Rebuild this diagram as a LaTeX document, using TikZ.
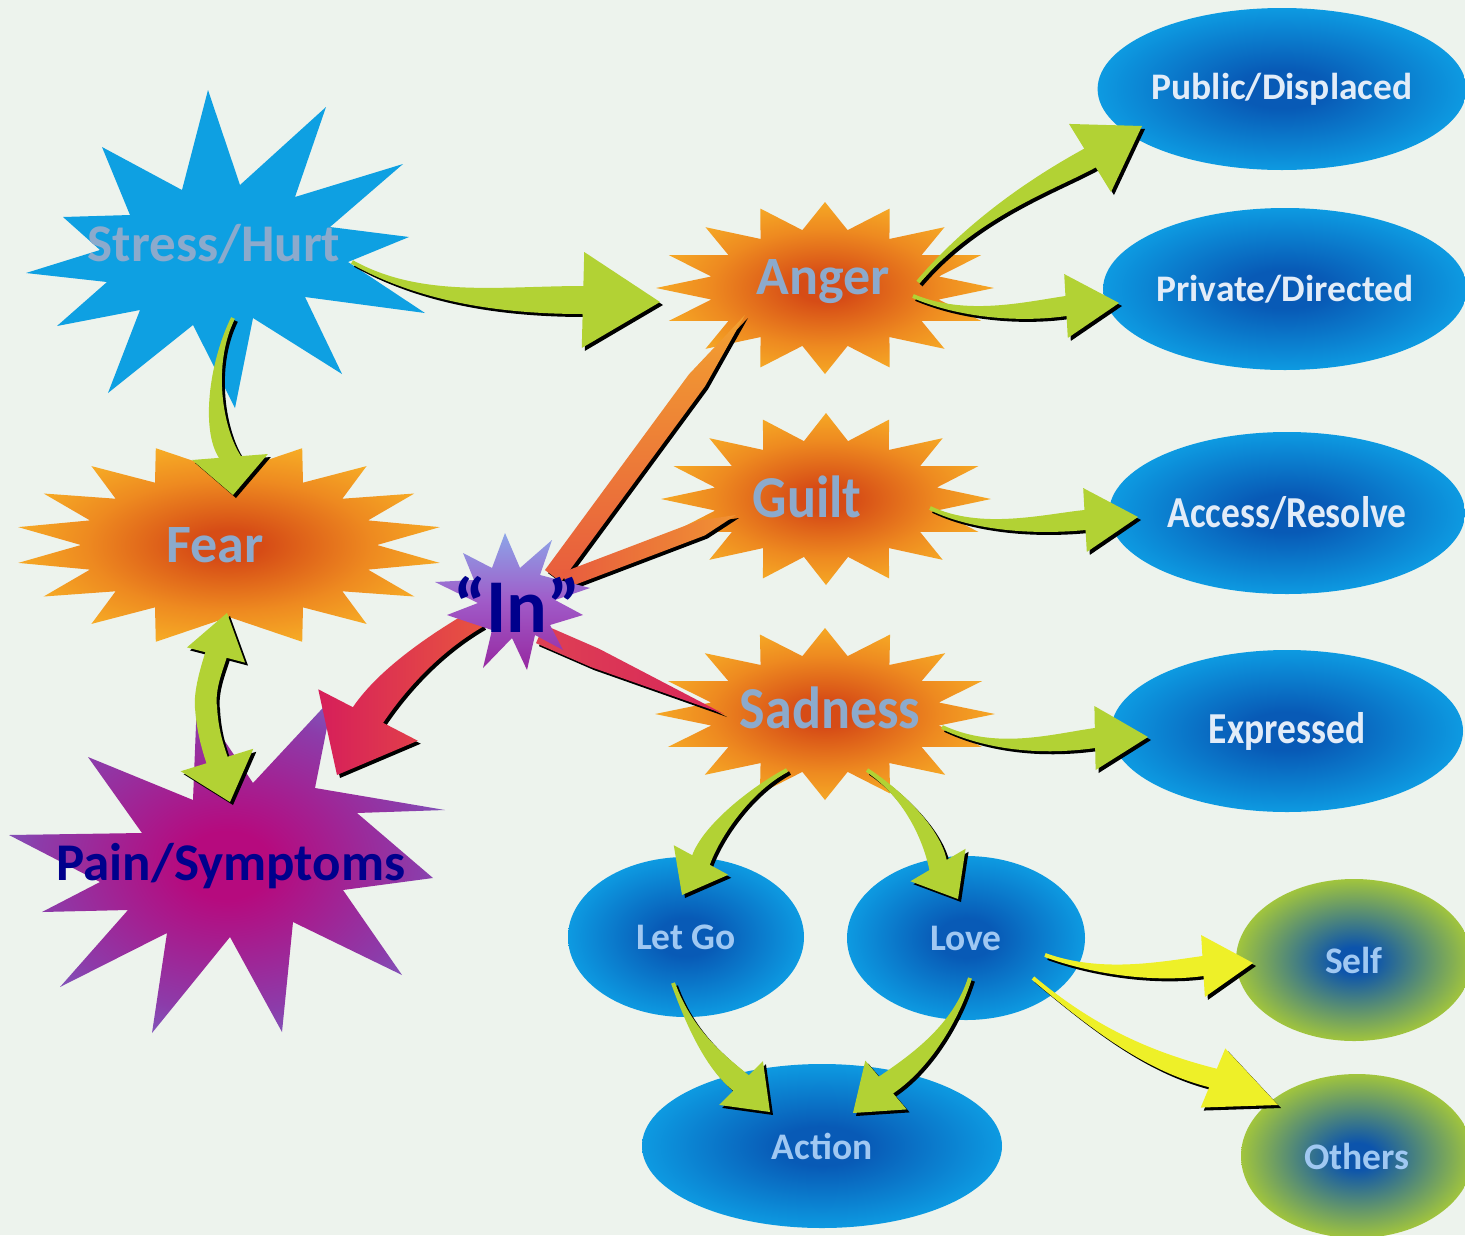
\documentclass[tikz,border=0pt]{standalone}
\usepackage{fontspec}
\usepackage{graphicx}
\setmainfont{Carlito}
\usetikzlibrary{calc,shapes.geometric}

\definecolor{bg}{RGB}{237,243,237}
\definecolor{starblue}{RGB}{14,160,226}
\definecolor{ocore}{RGB}{214,76,22}
\definecolor{omid}{RGB}{238,138,32}
\definecolor{oedge}{RGB}{250,186,40}
\definecolor{bcore}{RGB}{8,90,182}
\definecolor{bedge}{RGB}{14,164,232}
\definecolor{gcore}{RGB}{12,84,172}
\definecolor{gedge}{RGB}{168,202,56}
\definecolor{pcore}{RGB}{182,10,126}
\definecolor{pmid}{RGB}{140,60,170}
\definecolor{pedge}{RGB}{100,150,226}
\definecolor{arrgreen}{RGB}{178,210,52}
\definecolor{arryellow}{RGB}{238,240,40}
\definecolor{stxt}{RGB}{140,170,204}
\definecolor{etxt}{RGB}{226,236,248}
\definecolor{ltxt}{RGB}{160,200,242}
\definecolor{navy}{RGB}{0,0,140}
\definecolor{inblue}{RGB}{140,165,232}
\definecolor{inmid}{RGB}{160,90,200}
\definecolor{inpurple}{RGB}{150,40,160}
\definecolor{crimson}{RGB}{214,30,90}
\definecolor{redorange}{RGB}{232,84,64}
\definecolor{wedgeor}{RGB}{242,160,48}
\definecolor{wedgered}{RGB}{232,92,62}
\definecolor{wedgepink}{RGB}{222,64,84}

\pgfdeclareradialshading{orangeglow}{\pgfpoint{0bp}{0bp}}{color(0bp)=(ocore); color(4bp)=(ocore); color(17bp)=(omid); color(30bp)=(oedge); color(50bp)=(oedge)}
\pgfdeclareradialshading{blueglow}{\pgfpoint{0bp}{0bp}}{color(0bp)=(bcore); color(6bp)=(bcore); color(28bp)=(bedge); color(50bp)=(bedge)}
\pgfdeclareradialshading{greenglow}{\pgfpoint{0bp}{0bp}}{color(0bp)=(gcore); color(4bp)=(gcore); color(26bp)=(gedge); color(50bp)=(gedge)}
\pgfdeclareradialshading{painglow}{\pgfpoint{0bp}{0bp}}{color(0bp)=(pcore); color(5bp)=(pcore); color(22bp)=(pmid); color(38bp)=(pedge); color(50bp)=(pedge)}

% seal: #1 cx, #2 cy, #3 half step angle, #4 last index, #5 rx, #6 ry, #7 inner rx, #8 inner ry, #9 offset
\newcommand\seal[9]{%
  \shade[shading=orangeglow] ({#1+#5*cos(#9)},{#2-#6*sin(#9)})
    \foreach \k in {1,...,#4} {
      -- ({#1+(mod(\k,2)*#7+(1-mod(\k,2))*#5)*cos(#9+\k*#3)},{#2-(mod(\k,2)*#8+(1-mod(\k,2))*#6)*sin(#9+\k*#3)})
    } -- cycle;}

% fat tapered arrow: #1 tail, #2 c1, #3 c2, #4 head base, #5 tip, #6 tail hw, #7 body hw, #8 head hw, #9 style
\newcommand\fatarrow[9]{%
  \coordinate (fS) at #1; \coordinate (fC1) at #2; \coordinate (fC2) at #3;
  \coordinate (fE) at #4; \coordinate (fT) at #5;
  \coordinate (fEL) at ($(fE)!#7!90:(fT)$); \coordinate (fER) at ($(fE)!#7!-90:(fT)$);
  \coordinate (fHL) at ($(fE)!#8!90:(fT)$); \coordinate (fHR) at ($(fE)!#8!-90:(fT)$);
  \coordinate (fSL) at ($(fS)!#6!90:(fC1)$); \coordinate (fSR) at ($(fS)!#6!-90:(fC1)$);
  \begin{scope}[transform canvas={xshift=3pt,yshift=-3pt}]
    \fill[black] (fSL) .. controls ($(fC1)+(fSL)-(fS)$) and ($(fC2)+(fEL)-(fE)$) .. (fEL) -- (fHL) -- (fT) -- (fHR) -- (fER)
      .. controls ($(fC2)+(fER)-(fE)$) and ($(fC1)+(fSR)-(fS)$) .. (fSR) -- cycle;
  \end{scope}
  \path[#9] (fSL) .. controls ($(fC1)+(fSL)-(fS)$) and ($(fC2)+(fEL)-(fE)$) .. (fEL) -- (fHL) -- (fT) -- (fHR) -- (fER)
      .. controls ($(fC2)+(fER)-(fE)$) and ($(fC1)+(fSR)-(fS)$) .. (fSR) -- cycle;}

% band ending in a point: #1 base, #2 tip, #3 half width, #4 fraction where taper starts, #5 style
\newcommand\band[5]{%
  \coordinate (wB) at #1; \coordinate (wT) at #2;
  \coordinate (wM) at ($(wB)!#4!(wT)$);
  \coordinate (wBL) at ($(wB)!#3!90:(wT)$); \coordinate (wBR) at ($(wB)!#3!-90:(wT)$);
  \coordinate (wML) at ($(wM)!#3!90:(wT)$); \coordinate (wMR) at ($(wM)!#3!-90:(wT)$);
  \begin{scope}[transform canvas={xshift=3pt,yshift=-3pt}]
    \fill[black] (wBL) -- (wML) -- (wT) -- (wMR) -- (wBR) -- cycle;
  \end{scope}
  \path[#5] (wBL) -- (wML) -- (wT) -- (wMR) -- (wBR) -- cycle;}

\tikzset{
  startxt/.style={font=\bfseries\fontsize{54}{56}\selectfont, text=stxt, inner sep=0pt},
  bell/.style={ellipse, shade, shading=blueglow, inner sep=0pt,
    font=\bfseries\fontsize{37.5}{40}\selectfont, text=etxt},
  gell/.style={ellipse, shade, shading=greenglow, inner sep=0pt,
    font=\bfseries\fontsize{37.5}{40}\selectfont, text=ltxt},
  greenfill/.style={fill=arrgreen},
  yellowfill/.style={fill=arryellow},
}

\begin{document}
\begin{tikzpicture}[x=1pt,y=-1pt]
\useasboundingbox (0,0) rectangle (1465,1235);
\fill[bg] (0,0) rectangle (1465,1235);

% Stress/Hurt star
\fill[starblue] (208,90) -- (240,185) -- (326,107) -- (295,197) -- (403,164) -- (330,227)
  -- (409,237) -- (348,262) -- (425,313) -- (305,297) -- (342,374) -- (253,318)
  -- (235,408) -- (193,325) -- (108,393) -- (140,310) -- (57,326) -- (107,282)
  -- (26,273) -- (100,250) -- (63,217) -- (130,215) -- (102,147) -- (182,190) -- cycle;

% Fear (no tips at top and bottom)
\shade[shading=orangeglow] ({229+214*cos(10)},{545-103*sin(10)})
  \foreach \a/\t in {20/0,30/1,40/0,50/1,60/0,70/1,90/0,110/1,120/0,130/1,140/0,150/1,160/0,170/1,180/0,
                     190/1,200/0,210/1,220/0,230/1,240/0,250/1,270/0,290/1,300/0,310/1,320/0,330/1,340/0,350/1,360/0} {
    -- ({229+(\t*214+(1-\t)*148)*cos(\a)},{545-(\t*103+(1-\t)*72)*sin(\a)})
  } -- cycle;

% Pain/Symptoms star
\shade[shading=painglow] (88,757) -- (193,800) -- (197,700) -- (253,783) -- (333,697)
  -- (315,788) -- (445,810) -- (357,813) -- (433,878) -- (343,890) -- (402,975)
  -- (293,922) -- (282,1032) -- (230,937) -- (152,1033) -- (167,933) -- (60,987)
  -- (128,910) -- (42,912) -- (100,882) -- (9,835) -- (142,833) -- cycle;

% Anger, Guilt, Sadness
\seal{825}{288}{11.25}{31}{169}{86}{116}{59}{0}
\seal{826}{499}{11.25}{31}{165}{86}{113}{59}{0}
\seal{825}{714}{11.25}{31}{170}{86}{116}{59}{0}

% ellipses
\node[bell, minimum width=362pt, minimum height=162pt] (pub) at (1282,89) {Public/Displaced};
\node[bell, minimum width=362pt, minimum height=162pt] (priv) at (1285,289) {Private/Directed};
\node[bell, minimum width=356pt, minimum height=162pt] (acc) at (1287,513) {\scalebox{1}[1.18]{Access/Resolve}};
\node[bell, minimum width=352pt, minimum height=162pt] (expr) at (1287,731) {\scalebox{1}[1.18]{Expressed}};
\node[bell, minimum width=236pt, minimum height=160pt, text=ltxt] (letgo) at (686,937) {Let Go};
\node[bell, minimum width=238pt, minimum height=164pt, text=ltxt] (love) at (966,938) {Love};
\node[bell, minimum width=360pt, minimum height=164pt, text=ltxt] (action) at (822,1146) {Action};
\node[gell, minimum width=236pt, minimum height=162pt] (self) at (1354,960) {Self};
\node[gell, minimum width=232pt, minimum height=164pt] (others) at (1357,1156) {Others};

% bands from "In"
\band{(553,576)}{(745,315)}{10pt}{0.75}{bottom color=wedgered, top color=wedgeor}
\band{(565,580)}{(736,515)}{8pt}{0.8}{left color=wedgered, right color=wedgeor!80!wedgered}
\band{(540,634)}{(724,714)}{10pt}{0.3}{left color=wedgepink, right color=crimson!80!wedgepink}

% green arrows
\fatarrow{(352,262)}{(420,300)}{(500,300)}{(583,300)}{(660,302)}{2pt}{14pt}{48pt}{greenfill}
\fatarrow{(233,318)}{(210,365)}{(212,430)}{(230,457)}{(233,495)}{2pt}{11pt}{38pt}{greenfill}
\fatarrow{(206,708)}{(204,690)}{(212,668)}{(216,655)}{(227,613)}{11pt}{11pt}{30pt}{greenfill}
\fatarrow{(206,706)}{(207,728)}{(212,745)}{(217,760)}{(230,802)}{11pt}{11pt}{38pt}{greenfill}
\fatarrow{(918,282)}{(975,215)}{(1050,180)}{(1090,158)}{(1142,126)}{2pt}{11pt}{40pt}{greenfill}
\fatarrow{(913,296)}{(965,318)}{(1025,312)}{(1066,306)}{(1119,303)}{2pt}{10pt}{32pt}{greenfill}
\fatarrow{(930,508)}{(980,532)}{(1045,524)}{(1085,520)}{(1138,517)}{2pt}{10pt}{32pt}{greenfill}
\fatarrow{(942,727)}{(995,752)}{(1052,744)}{(1095,738)}{(1148,737)}{2pt}{10pt}{32pt}{greenfill}
\fatarrow{(787,770)}{(750,790)}{(712,830)}{(701,860)}{(682,895)}{2pt}{10pt}{31pt}{greenfill}
\fatarrow{(867,770)}{(905,795)}{(932,835)}{(938,865)}{(958,899)}{2pt}{10pt}{32pt}{greenfill}
\fatarrow{(673,983)}{(690,1030)}{(715,1062)}{(741,1083)}{(770,1112)}{2pt}{11pt}{31pt}{greenfill}
\fatarrow{(970,978)}{(955,1025)}{(920,1062)}{(886,1085)}{(853,1113)}{2pt}{11pt}{32pt}{greenfill}
% yellow arrows
\fatarrow{(1045,955)}{(1100,975)}{(1160,972)}{(1203,966)}{(1253,963)}{2pt}{10pt}{31pt}{yellowfill}
\fatarrow{(1033,978)}{(1095,1030)}{(1150,1062)}{(1213,1078)}{(1278,1105)}{2pt}{10pt}{32pt}{yellowfill}
% red arrow In -> Pain
\fatarrow{(478,618)}{(440,640)}{(395,675)}{(368,715)}{(337,775)}{10pt}{17pt}{56pt}{left color=crimson, right color=redorange}

% "In" star
\shade[top color=inblue, bottom color=inpurple, middle color=inmid]
  (505,533) -- (520,568) -- (552,540) -- (540,575) -- (590,588) -- (555,600) -- (583,615)
  -- (550,625) -- (563,650) -- (535,635) -- (527,670) -- (512,638) -- (483,668) -- (492,630)
  -- (447,615) -- (478,603) -- (435,582) -- (474,580) -- (463,553) -- (492,568) -- cycle;

% texts
\node[startxt, font=\bfseries\fontsize{53}{55}\selectfont] (stress) at (214,244) {Stress/Hurt};
\node[startxt] (fear) at (215,545) {Fear};
\node[startxt] (anger) at (823,282) {Anger};
\node[startxt] (guilt) at (807,497) {\scalebox{1}[1.1]{Guilt}};
\node[startxt] (sadness) at (830,708) {\scalebox{1}[1.1]{Sadness}};
\node[startxt, text=navy, font=\bfseries\fontsize{53}{55}\selectfont] (pain) at (231,866) {Pain/Symptoms};
\node[startxt, text=navy, font=\bfseries\fontsize{76}{78}\selectfont] (in) at (517,604) {“In”};
\end{tikzpicture}
\end{document}
